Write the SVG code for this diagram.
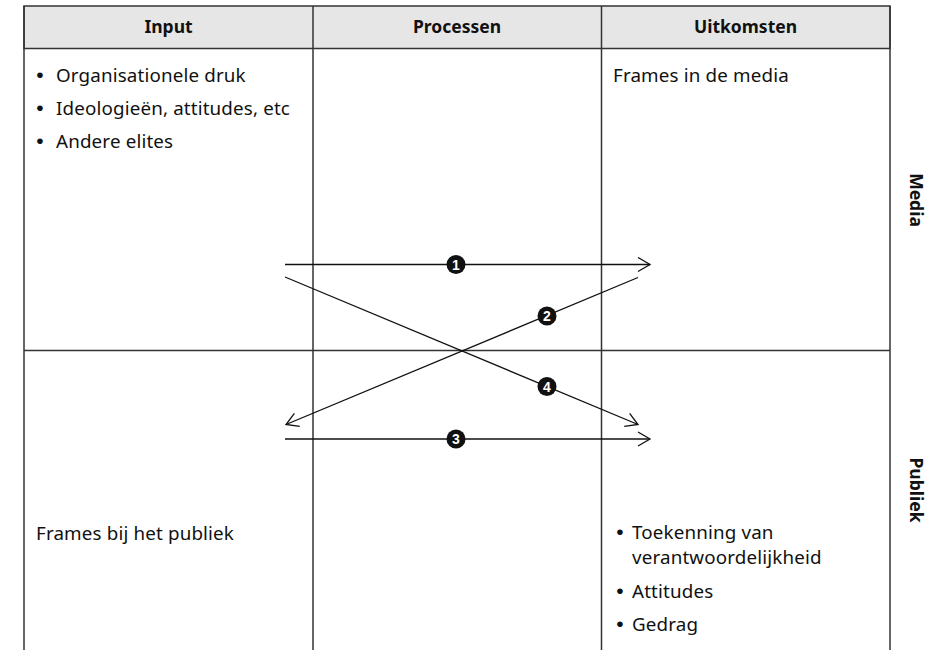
<svg xmlns="http://www.w3.org/2000/svg" width="939" height="650" viewBox="0 0 939 650">
<defs>
<style>
.grid{stroke:#333;stroke-width:1.5;fill:none}
.hdr{font-family:"Noto Sans","Open Sans",sans-serif;font-weight:bold;font-size:17.5px;fill:#111;text-anchor:middle}
.t{font-family:"Noto Sans","Open Sans",sans-serif;font-size:18.8px;letter-spacing:0.15px;fill:#111}
.b{font-family:"Liberation Sans",Arial,sans-serif;font-size:21px;fill:#111;text-anchor:middle}
.side{font-family:"Noto Sans","Open Sans",sans-serif;font-weight:bold;font-size:17.5px;fill:#111;text-anchor:middle}
.arr{stroke:#111;stroke-width:1.3;fill:none;marker-end:url(#ah)}
.num{font-family:"Liberation Sans",Arial,sans-serif;font-weight:bold;font-size:14px;fill:#fff;text-anchor:middle}
</style>
<marker id="ah" markerUnits="userSpaceOnUse" markerWidth="16" markerHeight="18" refX="13" refY="8" orient="auto" viewBox="0 0 16 18">
<path d="M1,1 L13,8 L1,15" stroke="#111" stroke-width="1.3" fill="none"/>
</marker>
</defs>
<rect width="939" height="650" fill="#fff"/>
<g id="table">
<rect x="24" y="6" width="866" height="42.5" fill="#e6e6e6" stroke="#333" stroke-width="1.5"/>
<line class="grid" x1="24" y1="6" x2="24" y2="650"/>
<line class="grid" x1="890" y1="6" x2="890" y2="650"/>
<line class="grid" x1="313" y1="6" x2="313" y2="650"/>
<line class="grid" x1="601.5" y1="6" x2="601.5" y2="650"/>
<line class="grid" x1="24" y1="350.5" x2="890" y2="350.5"/>
</g>
<g id="header">
<text class="hdr" x="168.5" y="33">Input</text>
<text class="hdr" x="457" y="33">Processen</text>
<text class="hdr" x="745.5" y="33">Uitkomsten</text>
</g>
<g id="input-media">
<text class="b" x="40" y="82">•</text><text class="t" x="56" y="82">Organisationele druk</text>
<text class="b" x="40" y="115">•</text><text class="t" x="56" y="115">Ideologieën, attitudes, etc</text>
<text class="b" x="40" y="148">•</text><text class="t" x="56" y="148">Andere elites</text>
</g>
<g id="outcome-media">
<text class="t" x="613" y="82">Frames in de media</text>
</g>
<g id="input-publiek">
<text class="t" x="36" y="540">Frames bij het publiek</text>
</g>
<g id="outcome-publiek">
<text class="b" x="620" y="539">•</text><text class="t" x="632" y="539">Toekenning van</text>
<text class="t" x="632" y="564">verantwoordelijkheid</text>
<text class="b" x="620" y="598">•</text><text class="t" x="632" y="598">Attitudes</text>
<text class="b" x="620" y="631">•</text><text class="t" x="632" y="631">Gedrag</text>
</g>
<g id="side-labels">
<text class="side" transform="translate(910,200) rotate(90)">Media</text>
<text class="side" transform="translate(910,490) rotate(90)">Publiek</text>
</g>
<g id="connectors">
<line class="arr" x1="285" y1="264.5" x2="650" y2="264.5"/>
<line class="arr" x1="638" y1="277.5" x2="286" y2="424.5"/>
<line class="arr" x1="285" y1="277" x2="638" y2="424.5"/>
<line class="arr" x1="285" y1="439" x2="650" y2="439"/>
</g>
<g id="badges">
<circle cx="456" cy="264.5" r="9.5" fill="#111"/><text class="num" x="456" y="269.5">1</text>
<circle cx="547" cy="316" r="9.5" fill="#111"/><text class="num" x="547" y="321">2</text>
<circle cx="456" cy="439" r="9.5" fill="#111"/><text class="num" x="456" y="444">3</text>
<circle cx="547" cy="386.5" r="9.5" fill="#111"/><text class="num" x="547" y="391.5">4</text>
</g>
</svg>
